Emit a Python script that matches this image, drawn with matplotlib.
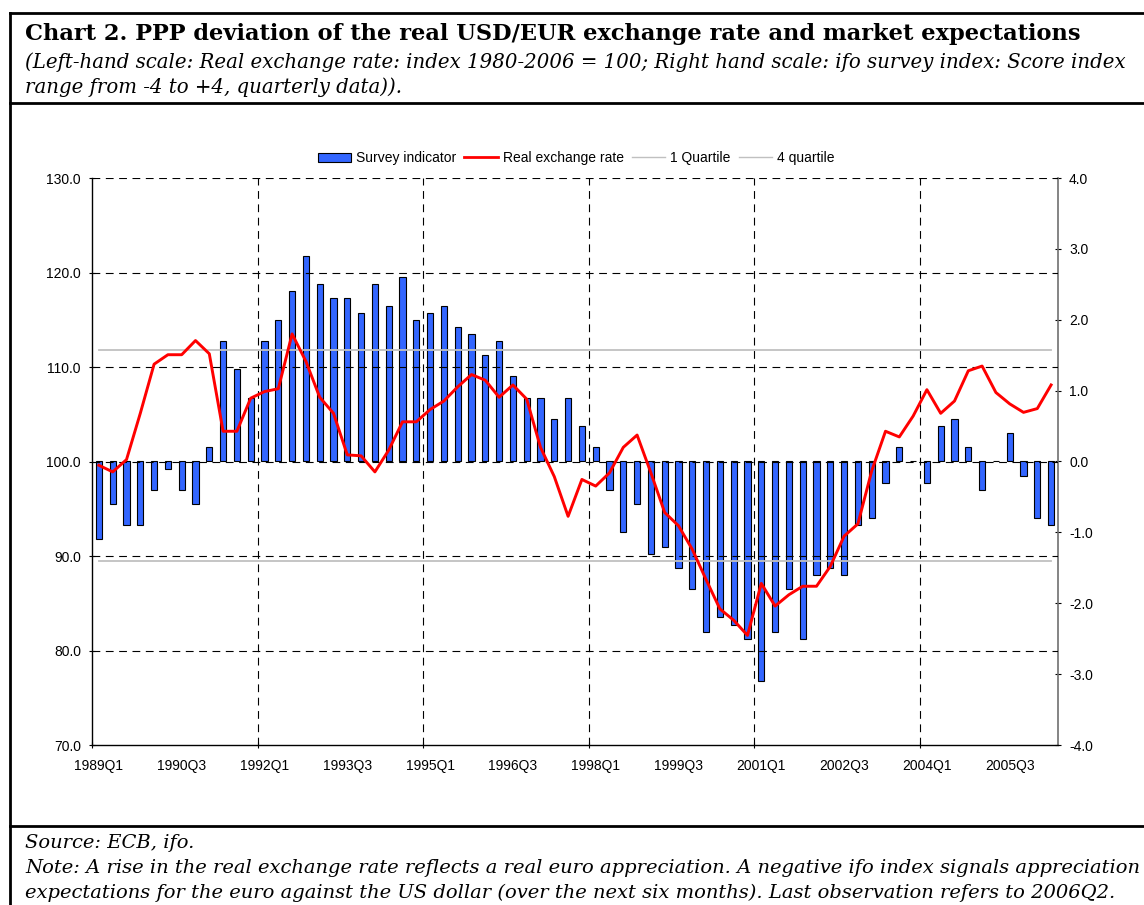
import matplotlib
matplotlib.use("Agg")
import matplotlib.pyplot as plt
from matplotlib.lines import Line2D
from matplotlib.patches import Patch
import numpy as np

# quarterly data 1989Q1 - 2006Q2
quarters = ["%dQ%d" % (y, q) for y in range(1989, 2007) for q in range(1, 5)][:70]

survey = [-1.1, -0.6, -0.9, -0.9, -0.4, -0.1, -0.4, -0.6, 0.2, 1.7,
          1.3, 0.9, 1.7, 2.0, 2.4, 2.9, 2.5, 2.3, 2.3, 2.1,
          2.5, 2.2, 2.6, 2.0, 2.1, 2.2, 1.9, 1.8, 1.5, 1.7,
          1.2, 0.9, 0.9, 0.6, 0.9, 0.5, 0.2, -0.4, -1.0, -0.6,
          -1.3, -1.2, -1.5, -1.8, -2.4, -2.2, -2.3, -2.5, -3.1, -2.4,
          -1.8, -2.5, -1.6, -1.5, -1.6, -0.9, -0.8, -0.3, 0.2, 0.0,
          -0.3, 0.5, 0.6, 0.2, -0.4, 0.0, 0.4, -0.2, -0.8, -0.9]

real_rate = [99.6, 98.9, 100.2, 105.1, 110.3, 111.3, 111.3, 112.8, 111.4, 103.2,
             103.2, 106.7, 107.4, 107.7, 113.5, 110.6, 106.8, 105.1, 100.7, 100.6,
             98.9, 101.2, 104.2, 104.2, 105.5, 106.4, 107.9, 109.2, 108.6, 106.8,
             108.1, 106.6, 101.5, 98.4, 94.2, 98.1, 97.4, 98.8, 101.5, 102.8,
             98.8, 94.6, 93.2, 90.7, 87.5, 84.4, 83.2, 81.6, 87.1, 84.7,
             85.9, 86.8, 86.8, 88.9, 92.1, 93.4, 99.0, 103.2, 102.6, 104.8,
             107.6, 105.1, 106.4, 109.6, 110.1, 107.3, 106.1, 105.2, 105.6, 108.1]

quartile_1 = 111.8
quartile_4 = 89.5

tick_labels = ["1989Q1", "1990Q3", "1992Q1", "1993Q3", "1995Q1", "1996Q3",
               "1998Q1", "1999Q3", "2001Q1", "2002Q3", "2004Q1", "2005Q3"]

sans = "Liberation Sans"
serif = "DejaVu Serif"
fs = 10

fig = plt.figure(figsize=(11.44, 9.05), dpi=100)
W, H = 1144.0, 905.0

ax = fig.add_axes([92 / W, 1 - 745 / H, 966 / W, 567 / H])
ax2 = ax.twinx()

x = np.arange(len(quarters))

# bars on the right-hand scale, line on the left
ax2.bar(x, survey, width=0.45, color="#3366ff", edgecolor="black", linewidth=0.8, zorder=3)
ax2.set_ylim(-4, 4)
ax2.set_yticks(np.arange(-4, 4.1, 1))
ax2.set_yticklabels(["%.1f" % v for v in np.arange(-4, 4.1, 1)], fontsize=fs, family=sans)

ax.set_zorder(ax2.get_zorder() + 1)
ax.patch.set_visible(False)

ax.plot(x, [quartile_1] * len(x), color="#c0c0c0", lw=1.3, zorder=2)
ax.plot(x, [quartile_4] * len(x), color="#c0c0c0", lw=1.3, zorder=2)
ax.plot(x, real_rate, color="#ff0000", lw=2.1, zorder=4)

ax.set_ylim(70, 130)
ax.set_yticks(np.arange(70, 131, 10))
ax.set_yticklabels(["%.1f" % v for v in np.arange(70, 131, 10)], fontsize=fs, family=sans)
ax.set_xlim(-0.5, len(x) - 0.5)

# dashed grid
dash = (0, (7, 5))
for v in range(80, 131, 10):
    ax.axhline(v, color="black", lw=0.8, ls=dash, zorder=1)
for b in [12, 24, 36, 48, 60]:
    ax.axvline(b - 0.5, color="black", lw=0.8, ls=dash, zorder=1)

ax.set_xticks([b - 0.5 for b in range(0, 70, 12)])
ax.set_xticklabels([])
ax.set_xticks(range(0, 70, 6), minor=True)
ax.set_xticklabels(tick_labels, minor=True, fontsize=fs, family=sans)
ax.tick_params(axis="x", which="minor", length=0, pad=10)
ax.tick_params(axis="x", which="major", length=4, direction="inout")
ax.tick_params(axis="y", length=4, direction="inout", pad=6)
ax2.tick_params(axis="y", length=4, direction="inout", pad=6, colors="black")

for a in (ax, ax2):
    a.spines["top"].set_visible(False)
ax.spines["right"].set_visible(False)
ax2.spines["left"].set_visible(False)
ax2.spines["bottom"].set_visible(False)
ax2.spines["right"].set_color("#707070")
ax2.spines["right"].set_linewidth(1.2)
ax.spines["left"].set_linewidth(1.0)
ax.spines["bottom"].set_linewidth(1.0)

handles = [Patch(facecolor="#3366ff", edgecolor="black", linewidth=0.8),
           Line2D([], [], color="#ff0000", lw=2.0),
           Line2D([], [], color="#c0c0c0", lw=1.0),
           Line2D([], [], color="#c0c0c0", lw=1.0)]
labels = ["Survey indicator", "Real exchange rate", "1 Quartile", "4 quartile"]
fig.legend(handles, labels, loc="center", bbox_to_anchor=(576 / W, 1 - 158 / H), ncol=4,
           frameon=False, prop={"family": sans, "size": fs}, handlelength=2.4,
           handleheight=0.6, handletextpad=0.35, columnspacing=0.6)

# frame with title and notes
lw_box = 2.0
fig.add_artist(Line2D([10 / W, 1.01], [1 - 12.7 / H, 1 - 12.7 / H], color="black", lw=lw_box))
fig.add_artist(Line2D([10 / W, 10 / W], [1 - 12.7 / H, -0.01], color="black", lw=lw_box))
fig.add_artist(Line2D([10 / W, 1.01], [1 - 103 / H, 1 - 103 / H], color="black", lw=lw_box))
fig.add_artist(Line2D([10 / W, 1.01], [1 - 825.5 / H, 1 - 825.5 / H], color="black", lw=lw_box))

fig.text(25 / W, 1 - 40 / H,
         "Chart 2. PPP deviation of the real USD/EUR exchange rate and market expectations",
         family=serif, weight="bold", fontsize=16.2, va="baseline", ha="left")
fig.text(25 / W, 1 - 68 / H,
         "(Left-hand scale: Real exchange rate: index 1980-2006 = 100; Right hand scale: ifo survey index: Score index",
         family=serif, style="italic", fontsize=14.2, va="baseline", ha="left")
fig.text(25 / W, 1 - 93 / H, "range from -4 to +4, quarterly data)).",
         family=serif, style="italic", fontsize=14.2, va="baseline", ha="left")

fig.text(25 / W, 1 - 848 / H, "Source: ECB, ifo.",
         family=serif, style="italic", fontsize=14.0, va="baseline", ha="left")
fig.text(25 / W, 1 - 873 / H,
         "Note: A rise in the real exchange rate reflects a real euro appreciation. A negative ifo index signals appreciation",
         family=serif, style="italic", fontsize=14.0, va="baseline", ha="left")
fig.text(25 / W, 1 - 898 / H,
         "expectations for the euro against the US dollar (over the next six months). Last observation refers to 2006Q2.",
         family=serif, style="italic", fontsize=14.0, va="baseline", ha="left")

fig.savefig("out.png", dpi=100)
